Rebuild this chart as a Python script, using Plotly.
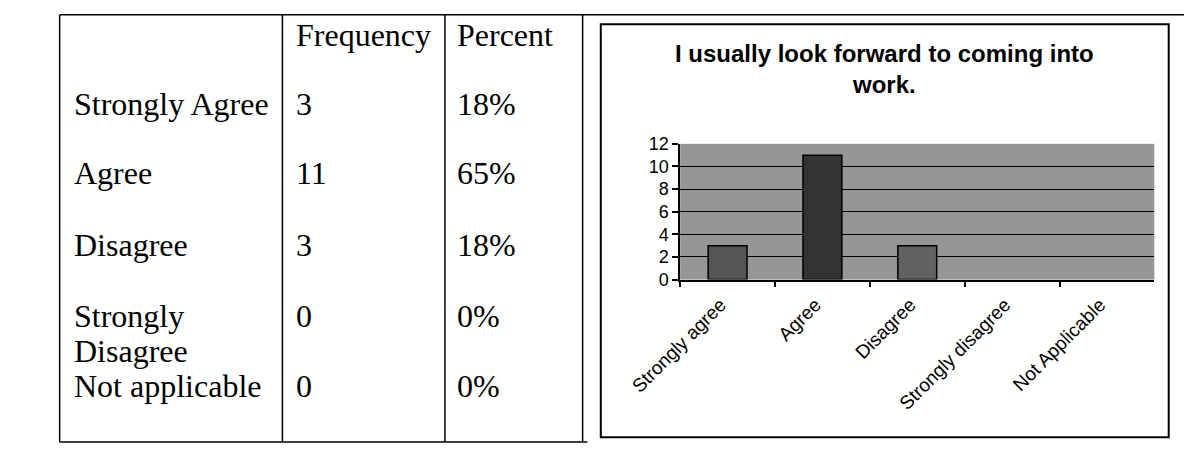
import plotly.graph_objects as go

# ---------------- data ----------------
table_rows = ["Strongly Agree", "Agree", "Disagree", "Strongly<br>Disagree", "Not applicable"]
frequency = [3, 11, 3, 0, 0]
percent = ["18%", "65%", "18%", "0%", "0%"]

categories = ["Strongly agree", "Agree", "Disagree", "Strongly disagree", "Not Applicable"]
counts = [3, 11, 3, 0, 0]
y_ticks = [0, 2, 4, 6, 8, 10, 12]

chart_title = "I usually look forward to coming into<br>work."

# ---------------- layout helpers ----------------
W, H = 1184, 454


def px(x):
    return x / W


def py(y):
    return 1 - y / H


bar_colors = ["#555555", "#333333", "#626262", "#626262", "#626262"]
bar_line_w = [1.5 if c > 0 else 0 for c in counts]

fig = go.Figure()
fig.add_trace(go.Bar(
    x=categories, y=counts,
    marker=dict(color=bar_colors, line=dict(color="black", width=bar_line_w)),
    showlegend=False, hoverinfo="x+y",
))

shapes = []
line_style = dict(color="black", width=1.5)
# table frame
shapes.append(dict(type="line", xref="paper", yref="paper", x0=px(8), x1=px(1184), y0=py(5), y1=py(5), line=line_style))
shapes.append(dict(type="line", xref="paper", yref="paper", x0=px(8), x1=px(560), y0=py(452), y1=py(452), line=line_style))
for xv in [8, 241, 411, 555]:
    shapes.append(dict(type="line", xref="paper", yref="paper", x0=px(xv), x1=px(xv), y0=py(5), y1=py(452), line=line_style))
# chart border
shapes.append(dict(type="rect", xref="paper", yref="paper", x0=px(574), x1=px(1168), y0=py(15), y1=py(447),
                   line=dict(color="black", width=2), fillcolor="rgba(0,0,0,0)"))

annotations = []
tfont = dict(family="Liberation Serif, Times New Roman, serif", size=32, color="black")


def add_text(text, x, y, font, xanchor="left"):
    annotations.append(dict(text=text, x=px(x), y=py(y), xref="paper", yref="paper",
                            xanchor=xanchor, yanchor="middle", showarrow=False, font=font))


add_text("Frequency", 253, 26, tfont)
add_text("Percent", 422, 26, tfont)
row_y = [98, 171, 246, 320, 393]
line_gap = 37
for i, lab in enumerate(table_rows):
    yy = row_y[i]
    for j, part in enumerate(lab.split("<br>")):
        add_text(part, 21, yy + j * line_gap, tfont)
    add_text(str(frequency[i]), 253, yy, tfont)
    add_text(percent[i], 422, yy, tfont)

title_html = "<br>".join("<b>" + p + "</b>" for p in chart_title.split("<br>"))
annotations.append(dict(text=title_html, x=px(871), y=py(62), xref="paper", yref="paper",
                        xanchor="center", yanchor="middle", showarrow=False,
                        font=dict(family="Liberation Sans, Arial, sans-serif", size=24, color="black"),
                        align="center"))

fig.update_layout(
    width=W, height=H,
    margin=dict(l=0, r=0, t=0, b=0),
    paper_bgcolor="white",
    plot_bgcolor="#969696",
    bargap=0.59,
    shapes=shapes,
    annotations=annotations,
    font=dict(family="Liberation Sans, Arial, sans-serif", color="black"),
    xaxis=dict(domain=[px(657), px(1153)], type="category", tickangle=-45,
               tickfont=dict(size=19, family="Liberation Sans, Arial, sans-serif", color="black"),
               ticklabelshift=-7, ticklabelstandoff=5,
               showline=True, linecolor="black", linewidth=1.5,
               ticks="outside", tickson="boundaries", ticklen=6, tickcolor="black", tickwidth=1.5,
               showgrid=False, fixedrange=True),
    yaxis=dict(domain=[py(282), py(140)], range=[0, 12], tickvals=y_ticks,
               tickfont=dict(size=18, family="Liberation Sans, Arial, sans-serif", color="black"),
               showline=True, linecolor="black", linewidth=1.5,
               ticks="outside", ticklen=6, tickcolor="black", tickwidth=1.5,
               showgrid=True, gridcolor="black", gridwidth=1.2, zeroline=False, fixedrange=True),
)

fig.write_html("out.html", config={"displayModeBar": False},
               post_script="document.body.style.margin='0';document.body.style.overflow='hidden';")
